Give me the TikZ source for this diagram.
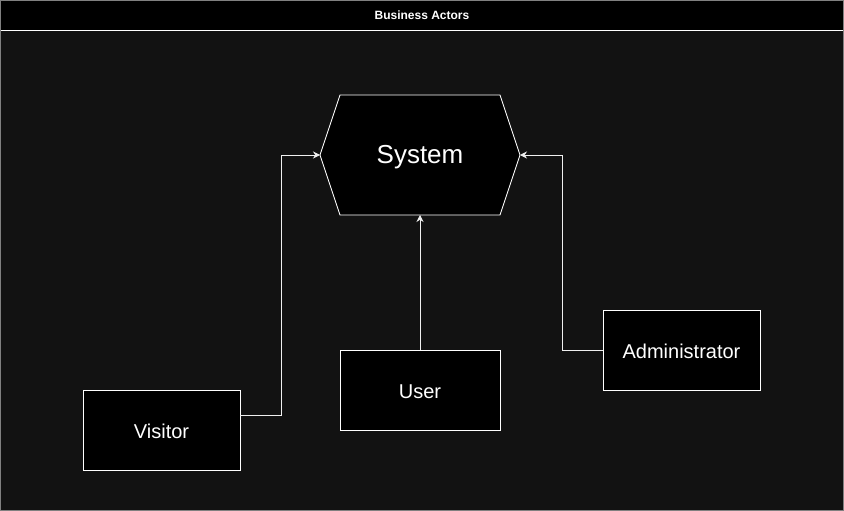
\documentclass[tikz,border=0pt]{standalone}
\usepackage{fontspec}
\setmainfont{Liberation Sans}
\usetikzlibrary{arrows.meta}
\definecolor{bgdark}{HTML}{121212}
\definecolor{edge}{HTML}{F0F0F0}
\begin{document}
\begin{tikzpicture}[x=1pt,y=-1pt,
  actor/.style={draw=white,fill=black,line width=0.8pt,minimum width=157pt,minimum height=80pt,inner sep=0pt,text=white,font=\fontsize{20}{24}\selectfont},
  lbl/.style={text=white,font=\fontsize{20}{24}\selectfont},
  link/.style={draw=edge,line width=0.8pt,-{Stealth[length=7pt,width=7pt]}}]
\useasboundingbox (0,0) rectangle (844,511);
\fill[bgdark] (0,0) rectangle (844,511);
\fill[black] (0.5,0.5) rectangle (843.5,30);
\draw[white,line width=0.8pt] (0.5,30) -- (843.5,30);
\draw[gray,line width=0.6pt] (0.5,0.5) rectangle (843.5,510.5);
\node[text=white,font=\bfseries\fontsize{12}{14}\selectfont] (title) at (422,15) {Business Actors};
% System hexagon
\draw[white,fill=black,line width=0.8pt] (340,95) -- (500,95) -- (520,155) -- (500,215) -- (340,215) -- (320,155) -- cycle;
\coordinate (sysL) at (320,155);
\coordinate (sysR) at (520,155);
\coordinate (sysB) at (420,215);
\node[text=white,font=\fontsize{26}{30}\selectfont] (system) at (420,157.5) {System};
% actors
\node[actor] (visitor) at (161.5,430) {};
\node[actor,minimum width=160pt] (user) at (420,390) {};
\node[actor] (admin) at (681.5,350) {};
\node[lbl] (visitorlbl) at (161.5,431.5) {Visitor};
\node[lbl] (userlbl) at (420,391.5) {User};
\node[lbl] (adminlbl) at (681.5,351.5) {Administrator};
% connectors
\draw[link] (visitor.east |- 0,415) -- (281,415) -- (281,155) -- (sysL);
\draw[link] (user.north) -- (sysB);
\draw[link] (admin.west) -- (562,350) -- (562,155) -- (sysR);
\end{tikzpicture}
\end{document}
